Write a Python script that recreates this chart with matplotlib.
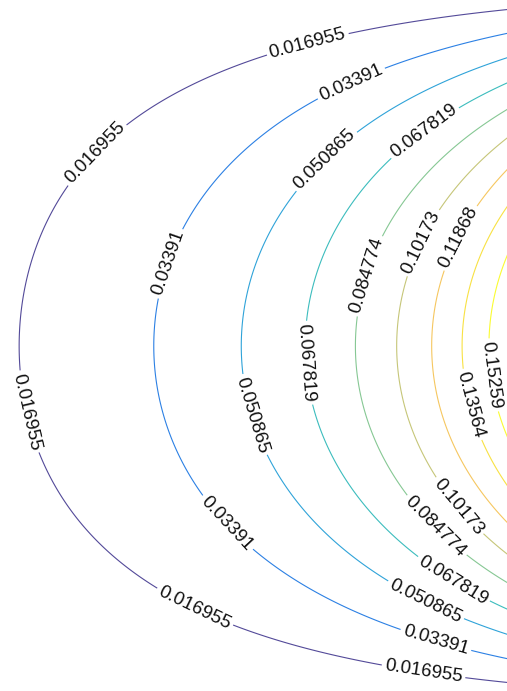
import numpy as np
import matplotlib
matplotlib.use('Agg')
import matplotlib.pyplot as plt
from matplotlib.colors import LinearSegmentedColormap

plt.rcParams['font.family'] = ['Liberation Sans', 'DejaVu Sans']

# contour levels as printed on the lines
levels = [0.016955, 0.03391, 0.050865, 0.067819, 0.084774,
          0.10173, 0.11868, 0.13564, 0.15259]
# value of sin() profile held on the hot edge of the unit square
edge_peak = 0.16955

# parula-like colour ramp
parula_rgb = [
    (0.2081, 0.1663, 0.5292), (0.1253, 0.3242, 0.8303), (0.0165, 0.4266, 0.8786),
    (0.0779, 0.5040, 0.8384), (0.0343, 0.5966, 0.8199), (0.0267, 0.6642, 0.7607),
    (0.1453, 0.7098, 0.6646), (0.3482, 0.7424, 0.5473), (0.5300, 0.7491, 0.4661),
    (0.6834, 0.7435, 0.4044), (0.8185, 0.7327, 0.3498), (0.9450, 0.7261, 0.2886),
    (0.9955, 0.7861, 0.1967), (0.9697, 0.8481, 0.1475), (0.9598, 0.9218, 0.0948),
    (0.9763, 0.9831, 0.0538),
]
parula = LinearSegmentedColormap.from_list('parula', parula_rgb)

# steady-state temperature on the unit square (Laplace solution)
x = np.linspace(0, 1, 401)
y = np.linspace(0, 1, 401)
X, Y = np.meshgrid(x, y)
Z = edge_peak * np.sin(np.pi * Y) * np.sinh(np.pi * X) / np.sinh(np.pi)

fig = plt.figure(figsize=(5.07, 6.91), dpi=100)
ax = fig.add_axes([0, 0, 1, 1])
cs = ax.contour(X, Y, Z, levels=levels, cmap=parula, linewidths=0.8, alpha=0.85)

# only the left part of the square is shown
ax.set_xlim(207 / 720, 714 / 720)
ax.set_ylim(705 / 720, 14 / 720)
ax.axis('off')


def px(p, q):
    return ((p + 207) / 720, (q + 14) / 720)


# label spots, roughly on each line
label_spots = [
    px(308, 45), px(97, 155), px(27, 412), px(194, 609), px(423, 675),
    px(352, 85), px(168, 263), px(225, 525), px(435, 643),
    px(327, 162), px(253, 415), px(425, 602),
    px(425, 133), px(305, 363), px(452, 582),
    px(372, 277), px(435, 527),
    px(423, 243), px(458, 507),
    px(460, 238),
    px(470, 405),
    px(493, 375),
]
labels = ax.clabel(cs, manual=label_spots, fmt='%g', fontsize=13.5,
                   colors='k', inline=True, inline_spacing=3)
for t in labels:
    t.set_alpha(1)
    t.set_color('#111111')

fig.savefig('out.png', dpi=100, facecolor='white')
